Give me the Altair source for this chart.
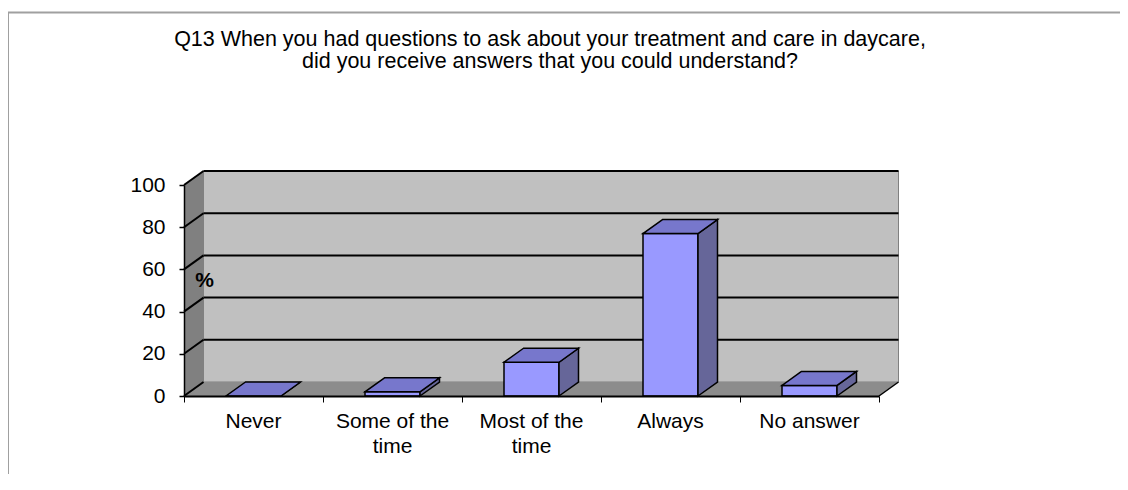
import altair as alt
import pandas as pd

# ---------------- data ----------------
categories = ["Never", "Some of the\ntime", "Most of the\ntime", "Always", "No answer"]
percent = [0, 2, 16, 77, 5]
y_ticks = [0, 20, 40, 60, 80, 100]
title_lines = [
    "Q13 When you had questions to ask about your treatment and care in daycare,",
    "did you receive answers that you could understand?",
]
axis_title = "%"

# ---------------- style / geometry constants ----------------
FONT = "Liberation Sans"
W, H = 695, 211                 # plot (front face) size in px
N = len(categories)
PX_X = W / N                    # px per category unit
PX_Y = H / 100                  # px per percent
DX = 19.5 / PX_X                # 3-D depth offset (x) in category units
DY = 14 / PX_Y                  # 3-D depth offset (y) in percent units
BW = 55 / PX_X                  # bar width in category units

xs = alt.Scale(domain=[0, N], nice=False, zero=False)
ys = alt.Scale(domain=[0, 100], nice=False, zero=False)


def X(f, axis=alt.Undefined):
    return alt.X(f, type="quantitative", scale=xs, axis=axis)


def Y(f, axis=alt.Undefined):
    return alt.Y(f, type="quantitative", scale=ys, axis=axis)


# ---------------- tables built from the data ----------------
wall_df = pd.DataFrame({"x": [DX], "x2": [N + DX], "y": [DY], "y2": [100 + DY]})
side_df = pd.DataFrame({"x": [0, DX], "y": [0, DY], "y2": [100, 100 + DY]})
floor_df = pd.DataFrame({"y": [0, DY], "x": [0, DX], "x2": [N, N + DX]})
grid_back_df = pd.DataFrame({"x": DX, "x2": N + DX, "y": [v + DY for v in y_ticks[1:]]})
grid_side_df = pd.DataFrame({"x": 0.0, "x2": DX, "y": y_ticks, "y2": [v + DY for v in y_ticks]})
floor_edge_df = pd.DataFrame({"x": [N], "x2": [N + DX], "y": [0], "y2": [DY]})

bars_df = pd.DataFrame({
    "cat": categories,
    "mid": [i + 0.5 for i in range(N)],
    "left": [i + 0.5 - BW / 2 for i in range(N)],
    "right": [i + 0.5 + BW / 2 for i in range(N)],
    "v": percent,
    "base": 0,
})

side_rows, top_rows = [], []
for c, l, r, v in zip(categories, bars_df["left"], bars_df["right"], percent):
    side_rows.append({"cat": c, "x": r, "y": 0, "y2": v})
    side_rows.append({"cat": c, "x": r + DX, "y": DY, "y2": v + DY})
    top_rows.append({"cat": c, "y": v, "x": l, "x2": r})
    top_rows.append({"cat": c, "y": v + DY, "x": l + DX, "x2": r + DX})
side_faces_df = pd.DataFrame(side_rows)
top_faces_df = pd.DataFrame(top_rows)

title_df = pd.DataFrame({"t": ["\n".join(title_lines)]})
one_df = pd.DataFrame({"a": [0]})

# ---------------- axes (carried by an invisible first layer) ----------------
y_axis = alt.Axis(
    values=y_ticks, title=axis_title, titleAngle=0, titleFont=FONT, titleFontSize=21,
    titleFontWeight="bold", titleColor="black", titleX=20, titleY=95,
    titleAlign="center", titleBaseline="middle",
    labelFont=FONT, labelFontSize=21, labelColor="black", labelPadding=14,
    tickColor="black", tickSize=5, tickWidth=1.5,
    domainColor="black", domainWidth=1.5, grid=False, zindex=2,
)
x_axis = alt.Axis(
    values=list(range(N + 1)), labels=False, title=None, tickColor="black",
    tickSize=6, tickWidth=1, domainColor="black", domainWidth=2, grid=False, zindex=2,
)

axis_layer = alt.Chart(bars_df).mark_point(opacity=0).encode(
    x=X("mid", axis=x_axis), y=Y("v", axis=y_axis)
)

# ---------------- layers ----------------
back_wall = alt.Chart(wall_df).mark_rect(
    fill="#C0C0C0", stroke="#808080", strokeWidth=1
).encode(x=X("x"), x2="x2", y=Y("y"), y2="y2")

side_wall = alt.Chart(side_df).mark_area(color="#808080", opacity=1).encode(
    x=X("x"), y=Y("y"), y2="y2"
)

floor = alt.Chart(floor_df).mark_area(orient="horizontal", color="#8C8C8C", opacity=1).encode(
    y=Y("y"), x=X("x"), x2="x2"
)

grid_back = alt.Chart(grid_back_df).mark_rule(color="black", strokeWidth=2).encode(
    x=X("x"), x2="x2", y=Y("y")
)

grid_side = alt.Chart(grid_side_df).mark_rule(color="black", strokeWidth=2).encode(
    x=X("x"), x2="x2", y=Y("y"), y2="y2"
)

floor_edge = alt.Chart(floor_edge_df).mark_rule(color="black", strokeWidth=1.5).encode(
    x=X("x"), x2="x2", y=Y("y"), y2="y2"
)

front = alt.Chart(bars_df).mark_rect(fill="#9999FF", stroke="black", strokeWidth=1.5).encode(
    x=X("left"), x2="right", y=Y("base"), y2="v"
)

side_faces = alt.Chart(side_faces_df).mark_area(
    fill="#666699", stroke="black", strokeWidth=1.5, opacity=1
).encode(x=X("x"), y=Y("y"), y2="y2", detail="cat:N")

top_faces = alt.Chart(top_faces_df).mark_area(
    orient="horizontal", fill="#7777CC", stroke="black", strokeWidth=1.5, opacity=1
).encode(y=Y("y"), x=X("x"), x2="x2", detail="cat:N")

cat_labels = alt.Chart(bars_df).mark_text(
    font=FONT, fontSize=21, color="black", align="center", baseline="alphabetic",
    lineBreak="\n", lineHeight=25,
).encode(x=X("mid"), y=alt.value(243), text="cat:N")

title = alt.Chart(title_df).mark_text(
    font=FONT, fontSize=21.5, color="black", align="center", baseline="alphabetic",
    lineBreak="\n", lineHeight=22,
).encode(x=alt.value(366), y=alt.value(-139), text="t:N")

border_left = alt.Chart(one_df).mark_rule(color="#A0A0A0", strokeWidth=2).encode(
    x=alt.value(-176), y=alt.value(-173), y2=alt.value(289)
)
border_top = alt.Chart(one_df).mark_rule(color="#A0A0A0", strokeWidth=2).encode(
    x=alt.value(-176), x2=alt.value(936), y=alt.value(-172.5)
)

chart = alt.layer(
    axis_layer, border_left, border_top, title,
    back_wall, side_wall, floor, grid_back, grid_side, floor_edge,
    front, side_faces, top_faces, cat_labels,
).properties(
    width=W, height=H,
    padding={"left": 176, "top": 177, "right": 241, "bottom": 78},
    autosize=alt.AutoSizeParams(type="none"),
    background="white",
).configure_view(stroke=None)

chart.save("out.html", embed_options={"renderer": "svg", "actions": False})
